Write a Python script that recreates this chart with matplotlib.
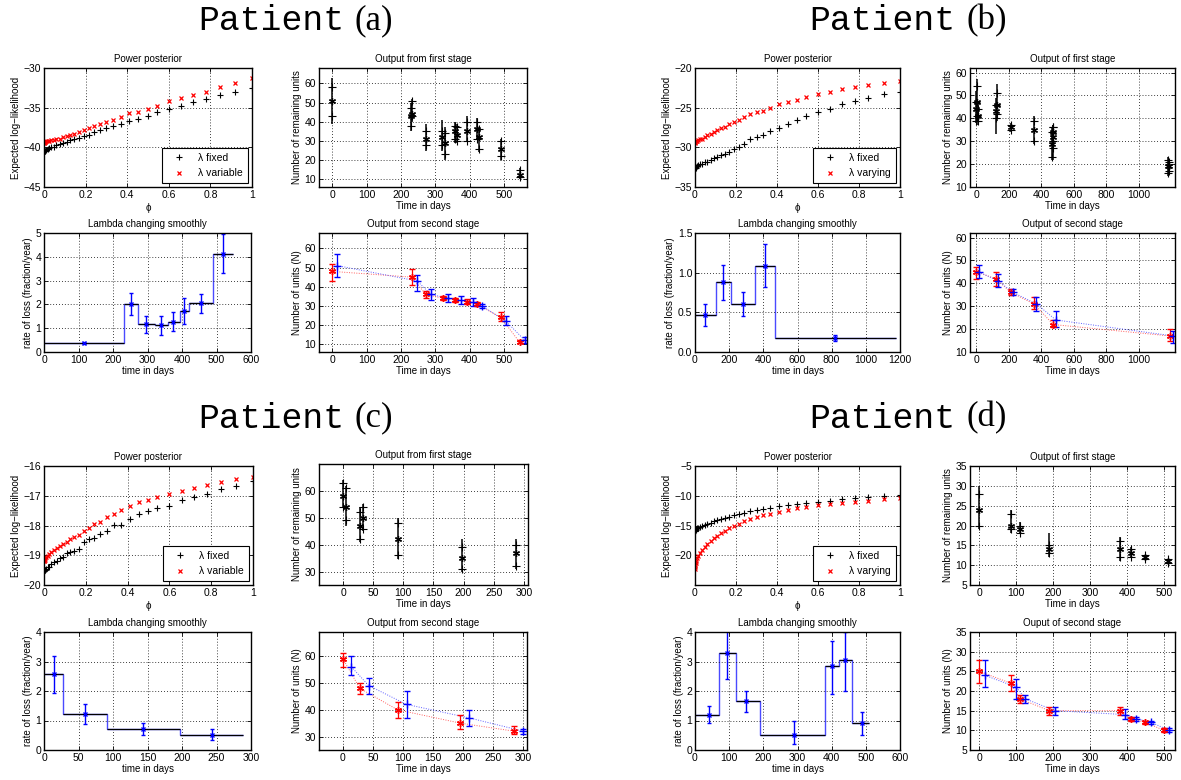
import matplotlib.pyplot as plt
from matplotlib.lines import Line2D

W, H = 1181, 780
plt.rcParams['font.family'] = 'Liberation Sans'

# ---- power posterior: temperature values (shared) ----
phi = [0, 0.0002, 0.001, 0.003, 0.006, 0.011, 0.017, 0.025, 0.035, 0.047, 0.06, 0.076,
       0.093, 0.109, 0.125, 0.144, 0.166, 0.19, 0.214, 0.24, 0.27, 0.30, 0.333, 0.368,
       0.41, 0.453, 0.498, 0.542, 0.6, 0.658, 0.716, 0.78, 0.845, 0.92, 1.0]

# ---- patient (a) ----
pp_a_fixed = [-40.5, -40.5, -40.5, -40.45, -40.4, -40.3, -40.2, -40.1, -40.0, -39.9, -39.7, -39.6,
              -39.4, -39.3, -39.1, -38.9, -38.8, -38.6, -38.4, -38.1, -37.8, -37.5, -37.3, -37.0,
              -36.7, -36.4, -36.0, -35.5, -35.2, -34.8, -34.3, -33.9, -33.4, -33.0, -32.5]
pp_a_var = [-39.4, -39.4, -39.35, -39.3, -39.3, -39.25, -39.2, -39.2, -39.1, -39.05, -39.0, -38.9,
            -38.7, -38.6, -38.4, -38.3, -38.1, -37.8, -37.6, -37.3, -37.0, -36.8, -36.5, -36.2,
            -35.7, -35.5, -35.2, -34.8, -34.2, -33.8, -33.4, -33.0, -32.4, -31.9, -31.3]
fs_a_t = [0, 230, 233, 272, 320, 327, 357, 362, 393, 420, 428, 490, 545]
fs_a_mid = [51, 43, 44, 31, 32, 29, 35, 33, 35, 36, 32, 26, 12]
fs_a_lo = [43, 38, 43, 28, 28, 23, 31, 30, 30, 31, 26, 22, 11]
fs_a_hi = [58, 47, 51, 35, 35, 34, 38, 37, 40, 40, 36, 30, 15]
fs_a_min = [39, 35, 40, 25, 25, 20, 29, 29, 30, 31, 24, 20, 10]
fs_a_max = [63, 50, 52, 39, 41, 37, 40, 39, 43, 42, 37, 31, 16]
lam_a_edges = [0, 232, 272, 322, 358, 393, 420, 490, 548]
lam_a_rate = [0.37, 2.02, 1.17, 1.12, 1.28, 1.73, 2.07, 4.13]
lam_a_t = [116, 252, 297, 340, 375, 406, 455, 518]
lam_a_lo = [0.32, 1.55, 0.80, 0.73, 0.88, 1.18, 1.65, 3.30]
lam_a_hi = [0.42, 2.48, 1.53, 1.53, 1.70, 2.28, 2.45, 4.97]
ss_a_t_red = [0, 232, 272, 322, 358, 393, 420, 490, 545]
ss_a_red = [48, 45, 36, 34, 33, 32, 31, 24, 11]
ss_a_red_lo = [43, 41, 34, 33, 32, 31, 30, 22, 10.5]
ss_a_red_hi = [52, 49, 38, 35, 34, 33.5, 32, 27, 12]
ss_a_t_blue = [15, 247, 287, 337, 373, 408, 435, 505, 560]
ss_a_blue = [51, 43, 36, 34, 33, 32, 30, 22, 12]
ss_a_blue_lo = [45, 38, 33, 32, 31, 30, 29, 20, 10.5]
ss_a_blue_hi = [57, 46, 39, 36, 35, 34, 31, 25, 14]

# ---- patient (b) ----
pp_b_fixed = [-32.65, -32.62, -32.6, -32.55, -32.5, -32.35, -32.2, -32.15, -32.05, -31.9, -31.8, -31.6,
              -31.4, -31.2, -31.0, -30.8, -30.6, -30.2, -30.0, -29.6, -29.0, -28.7, -28.4, -27.9,
              -27.55, -27.1, -26.6, -26.0, -25.6, -25.2, -24.5, -24.1, -23.75, -23.25, -23.0]
pp_b_var = [-29.4, -29.35, -29.3, -29.25, -29.2, -29.2, -29.1, -29.0, -28.9, -28.7, -28.5, -28.3,
            -28.1, -27.8, -27.6, -27.4, -27.1, -26.8, -26.6, -26.2, -25.8, -25.6, -25.4, -25.0,
            -24.6, -24.3, -24.0, -23.7, -23.3, -23.0, -22.7, -22.4, -22.1, -21.9, -21.6]
fs_b_t = [0, 5, 8, 120, 127, 213, 352, 468, 470, 474, 1180, 1186]
fs_b_mid = [44, 47, 41, 43, 46, 36, 35, 29, 34, 32, 19, 19]
fs_b_lo = [39, 41, 39, 40, 42, 35, 30, 23, 30, 27, 16, 17]
fs_b_hi = [47, 54, 44, 46, 51, 37, 39, 34, 36, 36, 22, 21]
fs_b_min = [38, 39, 37, 33, 39, 34, 29, 22, 29, 22, 15, 16]
fs_b_max = [52, 57, 47, 49, 55, 38, 41, 36, 37, 37, 23, 22]
lam_b_edges = [0, 121, 211, 349, 466, 1175]
lam_b_rate = [0.465, 0.88, 0.60, 1.09, 0.18]
lam_b_t = [60, 166, 280, 410, 822]
lam_b_lo = [0.33, 0.66, 0.45, 0.82, 0.14]
lam_b_hi = [0.60, 1.10, 0.76, 1.36, 0.21]
ss_b_t_red = [0, 120, 213, 355, 474, 1195]
ss_b_red = [45, 42, 36, 31, 22, 17]
ss_b_red_lo = [42, 39, 35, 29, 21, 15]
ss_b_red_hi = [47, 45, 37.5, 34, 24, 20]
ss_b_t_blue = [15, 135, 226, 370, 490, 1215]
ss_b_blue = [45, 41, 36, 31, 24, 17]
ss_b_blue_lo = [42.5, 38.5, 35, 28, 21, 14]
ss_b_blue_hi = [48, 44, 37.5, 34, 28, 19]

# ---- patient (c) ----
pp_c_fixed = [-19.53, -19.52, -19.51, -19.51, -19.49, -19.46, -19.41, -19.38, -19.31, -19.23, -19.18,
              -19.09, -19.05, -18.92, -18.89, -18.87, -18.78, -18.56, -18.47, -18.41, -18.30, -18.18,
              -17.98, -17.98, -17.79, -17.60, -17.51, -17.42, -17.33, -17.14, -17.04, -16.94,
              -16.77, -16.68, -16.49]
pp_c_var = [-19.2, -19.18, -19.16, -19.15, -19.10, -19.06, -19.01, -18.97, -18.90, -18.83, -18.76,
            -18.70, -18.62, -18.54, -18.47, -18.38, -18.31, -18.19, -18.08, -17.95, -17.88, -17.73,
            -17.62, -17.47, -17.36, -17.22, -17.14, -17.05, -16.95, -16.84, -16.75, -16.63,
            -16.54, -16.45, -16.37]
fs_c_t = [0, 5, 28, 33, 91, 197, 287]
fs_c_mid = [58, 54, 47, 50, 42, 35, 37]
fs_c_lo = [54, 49, 42, 46, 36, 31, 32]
fs_c_hi = [63, 61, 52, 54, 48, 39, 40]
fs_c_min = [54, 47, 41, 45, 34.5, 30, 31]
fs_c_max = [64, 62, 54, 55, 50, 42, 42]
lam_c_edges = [0, 28, 92, 197, 288]
lam_c_rate = [2.57, 1.22, 0.72, 0.52]
lam_c_t = [14, 60, 144, 243]
lam_c_lo = [1.93, 0.88, 0.52, 0.34]
lam_c_hi = [3.20, 1.55, 0.90, 0.70]
ss_c_t_red = [0, 28, 91, 196, 286]
ss_c_red = [59, 48, 40, 35, 32]
ss_c_red_lo = [56, 46, 37, 33, 31]
ss_c_red_hi = [61, 50, 43, 38, 34]
ss_c_t_blue = [14, 43, 106, 210, 301]
ss_c_blue = [56, 49, 42, 37, 32]
ss_c_blue_lo = [53, 46, 37, 34, 31]
ss_c_blue_hi = [60, 52, 47, 40, 33]

# ---- patient (d) ----
pp_d_fixed = [-16.0, -15.9, -15.8, -15.7, -15.6, -15.5, -15.4, -15.3, -15.1, -14.9, -14.7, -14.5,
              -14.3, -14.1, -13.9, -13.7, -13.5, -13.3, -13.1, -12.9, -12.6, -12.4, -12.2, -12.0,
              -11.8, -11.6, -11.4, -11.2, -11.0, -10.8, -10.6, -10.4, -10.2, -10.0, -9.8]
pp_d_var = [-22.3, -22.0, -21.7, -21.3, -20.9, -20.5, -20.1, -19.6, -19.1, -18.6, -18.1, -17.6,
            -17.1, -16.7, -16.3, -15.9, -15.5, -15.1, -14.7, -14.3, -13.9, -13.6, -13.3, -13.0,
            -12.7, -12.4, -12.1, -11.9, -11.6, -11.4, -11.2, -11.0, -10.8, -10.6, -10.3]
fs_d_t = [0, 85, 110, 190, 380, 410, 450, 510]
fs_d_mid = [24, 20, 19, 14, 14, 13, 12, 11]
fs_d_lo = [20, 19, 18, 13, 12, 12, 11.5, 10.5]
fs_d_hi = [28, 23, 20, 15, 16, 14, 12.5, 11.5]
fs_d_min = [19, 18, 18, 12, 11, 12, 11.5, 10.5]
fs_d_max = [30, 24, 21, 18, 17, 14.5, 12.5, 11.5]
lam_d_edges = [0, 70, 120, 190, 380, 420, 460, 510]
lam_d_rate = [1.2, 3.3, 1.65, 0.5, 2.85, 3.05, 0.9]
lam_d_t = [40, 95, 150, 290, 400, 440, 490]
lam_d_lo = [0.9, 2.4, 1.3, 0.2, 1.9, 2.0, 0.5]
lam_d_hi = [1.5, 4.2, 2.0, 1.0, 3.7, 4.0, 1.3]
ss_d_t_red = [0, 85, 110, 190, 380, 410, 450, 500]
ss_d_red = [25, 22, 18, 15, 15, 13, 12, 10]
ss_d_red_lo = [22, 20, 17, 14, 14, 12.5, 11.5, 9.5]
ss_d_red_hi = [28, 24, 19, 16, 16, 13.5, 12.5, 10.5]
ss_d_t_blue = [15, 100, 125, 205, 395, 425, 465, 515]
ss_d_blue = [24, 21, 18, 15, 14, 13, 12, 10]
ss_d_blue_lo = [21, 18, 17, 14, 13, 12.5, 11.5, 9.5]
ss_d_blue_hi = [28, 23, 19, 16, 15.5, 13.5, 12.5, 10.5]

STAR = (6, 2, 0)
fig = plt.figure(figsize=(W / 100, H / 100), dpi=100)


def px_axes(l, t, r, b):
    ax = fig.add_axes([l / W, 1 - b / H, (r - l) / W, (b - t) / H])
    ax.tick_params(direction='in', top=True, right=True, length=3, width=0.6,
                   labelsize=7.5, pad=2)
    ax.grid(True, linestyle=(0, (1, 2.5)), color='k', linewidth=0.6)
    for s in ax.spines.values():
        s.set_linewidth(1.0)
    return ax


def power_panel(ax, fixed, var, lab, ylim, yticks):
    ax.plot(phi, fixed, '+', color='k', ms=5, mew=0.8)
    ax.plot(phi, var, 'x', color='r', ms=3.5, mew=0.9)
    ax.set_xlim(0, 1)
    ax.set_ylim(*ylim)
    ax.set_yticks(yticks)
    ax.set_xticks([0, 0.2, 0.4, 0.6, 0.8, 1])
    ax.set_xticklabels(['0', '0.2', '0.4', '0.6', '0.8', '1'])
    ax.set_title('Power posterior', fontsize=7, pad=4)
    ax.set_xlabel('\u03d5', fontsize=7, labelpad=2)
    ax.set_ylabel('Expected log\u2212likelihood', fontsize=7, labelpad=2)
    h = [Line2D([], [], ls='', marker='+', color='k', ms=5, mew=0.8),
         Line2D([], [], ls='', marker='x', color='r', ms=3.5, mew=0.9)]
    ax.legend(h, ['\u03bb fixed', lab], loc='lower right', fontsize=7.5, fancybox=False,
              edgecolor='k', framealpha=1, borderaxespad=0.4, handlelength=2.2,
              labelspacing=0.5, borderpad=0.45).get_frame().set_linewidth(0.8)


def first_panel(ax, t, mid, lo, hi, mn, mx, title, xlim, xticks, ylim, yticks):
    ax.vlines(t, mn, mx, color='k', lw=1.1)
    ax.plot(t, lo, '+', color='k', ms=6, mew=0.8)
    ax.plot(t, hi, '+', color='k', ms=6, mew=0.8)
    ax.plot(t, mid, ls='', marker=STAR, color='k', ms=5, mew=0.9)
    ax.set_xlim(*xlim)
    ax.set_ylim(*ylim)
    ax.set_xticks(xticks)
    ax.set_yticks(yticks)
    ax.set_title(title, fontsize=7, pad=4)
    ax.set_xlabel('Time in days', fontsize=7, labelpad=1)
    ax.set_ylabel('Number of remaining units', fontsize=7, labelpad=2)


def lambda_panel(ax, edges, rate, t, lo, hi, xlim, xticks, ylim, yticks):
    ax.stairs(rate, edges, baseline=None, color='#4a4aff', lw=1.0)
    ax.hlines(rate, edges[:-1], edges[1:], color='k', lw=0.9)
    err = [[r - l for r, l in zip(rate, lo)], [h - r for r, h in zip(rate, hi)]]
    ax.errorbar(t, rate, yerr=err, fmt='x', color='b', ms=3.5, mew=1.0,
                elinewidth=1.0, capsize=1.5, capthick=0.8)
    ax.set_xlim(*xlim)
    ax.set_ylim(*ylim)
    ax.set_xticks(xticks)
    ax.set_yticks(yticks)
    ax.set_title('Lambda changing smoothly', fontsize=7, pad=4)
    ax.set_xlabel('time in days', fontsize=7, labelpad=1)
    ax.set_ylabel('rate of loss (fraction/year)', fontsize=7, labelpad=2)


def second_panel(ax, tr, r, rlo, rhi, tb, b, blo, bhi, title, xlim, xticks, ylim, yticks):
    er = [[v - l for v, l in zip(r, rlo)], [h - v for v, h in zip(r, rhi)]]
    eb = [[v - l for v, l in zip(b, blo)], [h - v for v, h in zip(b, bhi)]]
    ax.plot(tr, r, color='#ff6060', ls=(0, (1, 1.5)), lw=0.7)
    ax.plot(tb, b, color='#6060ff', ls=(0, (1, 1.5)), lw=0.7)
    ax.errorbar(tr, r, yerr=er, color='r', ls='', marker=STAR, ms=5, mew=1.0,
                elinewidth=0.9, capsize=2, capthick=0.8)
    ax.errorbar(tb, b, yerr=eb, color='b', ls='', marker='+', ms=6, mew=1.0,
                elinewidth=0.9, capsize=2, capthick=0.8)
    ax.set_xlim(*xlim)
    ax.set_ylim(*ylim)
    ax.set_xticks(xticks)
    ax.set_yticks(yticks)
    ax.set_title(title, fontsize=7, pad=4)
    ax.set_xlabel('Time in days', fontsize=7, labelpad=1)
    ax.set_ylabel('Number of units (N)', fontsize=7, labelpad=2)


def patient_title(xr, y, letter):
    fig.text(xr / W, 1 - y / H, 'Patient', family='Liberation Mono', fontsize=25,
             ha='right', va='center')
    fig.text((xr + 11) / W, 1 - y / H, '(' + letter + ')', family='Liberation Serif',
             fontsize=25, ha='left', va='center')


# patient (a)
patient_title(344, 21, 'a')
power_panel(px_axes(44, 68, 252, 187), pp_a_fixed, pp_a_var, '\u03bb variable',
            (-45, -30), [-45, -40, -35, -30])
first_panel(px_axes(319, 68, 527, 187), fs_a_t, fs_a_mid, fs_a_lo, fs_a_hi, fs_a_min, fs_a_max,
            'Output from first stage', (-38, 566), range(0, 501, 100), (6, 68), range(10, 61, 10))
lambda_panel(px_axes(44, 233, 251, 352), lam_a_edges, lam_a_rate, lam_a_t, lam_a_lo, lam_a_hi,
             (0, 600), range(0, 601, 100), (0, 5), range(0, 6))
second_panel(px_axes(319, 233, 527, 352), ss_a_t_red, ss_a_red, ss_a_red_lo, ss_a_red_hi,
             ss_a_t_blue, ss_a_blue, ss_a_blue_lo, ss_a_blue_hi, 'Output from second stage',
             (-38, 566), range(0, 501, 100), (6, 68), range(10, 61, 10))

# patient (b)
patient_title(955, 21, 'b')
power_panel(px_axes(695, 68, 900, 187), pp_b_fixed, pp_b_var, '\u03bb varying',
            (-35, -20), [-35, -30, -25, -20])
first_panel(px_axes(970, 68, 1175, 187), fs_b_t, fs_b_mid, fs_b_lo, fs_b_hi, fs_b_min, fs_b_max,
            'Output of first stage', (-40, 1225), range(0, 1001, 200), (10, 62), range(10, 61, 10))
lambda_panel(px_axes(695, 233, 900, 352), lam_b_edges, lam_b_rate, lam_b_t, lam_b_lo, lam_b_hi,
             (0, 1200), range(0, 1201, 200), (0, 1.5), [0, 0.5, 1, 1.5])
second_panel(px_axes(970, 233, 1175, 352), ss_b_t_red, ss_b_red, ss_b_red_lo, ss_b_red_hi,
             ss_b_t_blue, ss_b_blue, ss_b_blue_lo, ss_b_blue_hi, 'Output of second stage',
             (-40, 1225), range(0, 1001, 200), (10, 62), range(10, 61, 10))

# patient (c)
patient_title(344, 418, 'c')
power_panel(px_axes(44, 466, 253, 585), pp_c_fixed, pp_c_var, '\u03bb variable',
            (-20, -16), [-20, -19, -18, -17, -16])
first_panel(px_axes(319, 464, 528, 585), fs_c_t, fs_c_mid, fs_c_lo, fs_c_hi, fs_c_min, fs_c_max,
            'Output from first stage', (-40, 307), range(0, 301, 50), (25, 70), range(30, 61, 10))
lambda_panel(px_axes(44, 632, 251, 750), lam_c_edges, lam_c_rate, lam_c_t, lam_c_lo, lam_c_hi,
             (0, 300), range(0, 301, 50), (0, 4), range(0, 5))
second_panel(px_axes(319, 632, 527, 750), ss_c_t_red, ss_c_red, ss_c_red_lo, ss_c_red_hi,
             ss_c_t_blue, ss_c_blue, ss_c_blue_lo, ss_c_blue_hi, 'Output from second stage',
             (-40, 307), range(0, 301, 50), (25, 69), range(30, 61, 10))

# patient (d)
patient_title(955, 418, 'd')
power_panel(px_axes(695, 466, 900, 585), pp_d_fixed, pp_d_var, '\u03bb varying',
            (-25, -5), [-20, -15, -10, -5])
first_panel(px_axes(970, 466, 1175, 585), fs_d_t, fs_d_mid, fs_d_lo, fs_d_hi, fs_d_min, fs_d_max,
            'Output of first stage', (-25, 530), range(0, 501, 100), (5, 35), range(5, 36, 5))
lambda_panel(px_axes(695, 632, 900, 750), lam_d_edges, lam_d_rate, lam_d_t, lam_d_lo, lam_d_hi,
             (0, 600), range(0, 601, 100), (0, 4), range(0, 5))
second_panel(px_axes(970, 632, 1175, 750), ss_d_t_red, ss_d_red, ss_d_red_lo, ss_d_red_hi,
             ss_d_t_blue, ss_d_blue, ss_d_blue_lo, ss_d_blue_hi, 'Ouput of second stage',
             (-25, 530), range(0, 501, 100), (5, 35), range(5, 36, 5))

fig.savefig('out.png', dpi=100)
